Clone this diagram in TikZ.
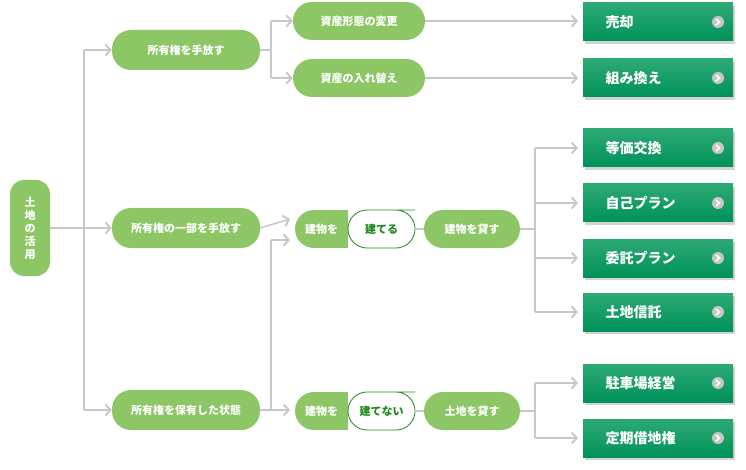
\documentclass[tikz,border=0pt]{standalone}
\usepackage{fontspec}
\newfontfamily\jp{Noto Sans CJK JP}
\usetikzlibrary{arrows.meta,shadows}
\definecolor{pillgreen}{HTML}{8CC665}
\definecolor{boxtop}{HTML}{2DAA74}
\definecolor{boxbot}{HTML}{00915A}
\definecolor{linegray}{HTML}{C8C8C8}
\definecolor{textgreen}{HTML}{1E8A1E}
\tikzset{
  pill/.style={fill=pillgreen, text=white, rounded corners=19pt, minimum height=38pt,
    font=\jp\bfseries\fontsize{11}{11}\selectfont, inner sep=0pt},
  greenbox/.style={fill=boxbot, top color=boxtop, bottom color=boxbot, text=white,
    minimum width=150pt, minimum height=38pt, inner sep=0pt,
    drop shadow={shadow xshift=2pt, shadow yshift=-3pt, opacity=0.35},
    font=\jp\bfseries\fontsize{14}{14}\selectfont},
  conn/.style={linegray, line width=1.5pt},
  tip/.style={conn, -{Straight Barb[length=5pt,width=11pt,line width=2pt]}},
}
\newcommand{\gobox}[3]{%
  \node[greenbox] (#1) at (658,#2) {};
  \node[anchor=west, text=white, font=\jp\bfseries\fontsize{14}{14}\selectfont] at (602,#2) {#3};
  \fill[gray!45] (718,#2) circle (6pt);
  \draw[white, line width=1.5pt] (716,#2-3) -- (719.5,#2) -- (716,#2+3);
}
\begin{document}
\begin{tikzpicture}[x=1pt,y=-1pt]
\useasboundingbox (0,0) rectangle (746,470);
% root
\node[pill, minimum width=40pt, minimum height=96pt, rounded corners=14pt, align=center,
  font=\jp\bfseries\fontsize{11}{13}\selectfont] (root) at (30,228) {土\\地\\の\\活\\用};
% first level
\node[pill, minimum width=148pt, minimum height=40pt] (sell) at (186,50) {所有権を手放す};
\node[pill, minimum width=148pt, minimum height=40pt] (part) at (186,228) {所有権の一部を手放す};
\node[pill, minimum width=148pt, minimum height=40pt] (keep) at (186,410) {所有権を保有した状態};
\coordinate (rj) at (84,228);
\draw[conn] (root.east) -- (rj);
\draw[conn] (84,50) -- (84,410);
\draw[tip] (84,50) -- (sell.west);
\draw[tip] (rj) -- (part.west);
\draw[tip] (84,410) -- (keep.west);
% second level
\node[pill, minimum width=132pt] (form) at (359,21) {資産形態の変更};
\node[pill, minimum width=132pt] (swap) at (359,78) {資産の入れ替え};
\draw[conn] (sell.east) -- (271,50);
\draw[conn] (271,21) -- (271,78);
\draw[tip] (271,21) -- (form.west);
\draw[tip] (271,78) -- (swap.west);
% split pills
\foreach \nm/\yy/\rt in {build/229/建てる, nobuild/411/建てない}{
  \begin{scope}
    \clip[rounded corners=19pt] (295,\yy-19) rectangle (415,\yy+19);
    \fill[white] (295,\yy-19) rectangle (415,\yy+19);
    \fill[pillgreen] (295,\yy-19) rectangle (348,\yy+19);
  \end{scope}
  \draw[textgreen, line width=0.8pt, rounded corners=19pt] (348,\yy-19) -- (396,\yy-19) -- (415,\yy-19) -- (415,\yy+19) -- (348,\yy+19) -- cycle;
  \node[font=\jp\bfseries\fontsize{11}{11}\selectfont, text=white] (\nm L) at (321.5,\yy) {建物を};
  \node[font=\jp\bfseries\fontsize{11}{11}\selectfont, text=textgreen] (\nm R) at (381.5,\yy) {\rt};
  \coordinate (\nm) at (295,\yy);
  \coordinate (\nm E) at (415,\yy);
}
\draw[tip] (part.east) -- (290,219);
\draw[conn] (keep.east) -- (271,410);
\draw[conn] (271,410) -- (271,240);
\draw[tip] (271,240) -- (290,240);
\draw[tip] (271,410) -- (290,410);
% lend
\node[pill, minimum width=96pt] (lendb) at (472,229) {建物を貸す};
\node[pill, minimum width=96pt] (lendl) at (472,411) {土地を貸す};
\draw[conn] (buildE) -- (lendb.west);
\draw[conn] (nobuildE) -- (lendl.west);
% green boxes
\gobox{baikyaku}{22}{売却}
\gobox{kumikae}{78}{組み換え}
\gobox{toka}{148}{等価交換}
\gobox{jiko}{203}{自己プラン}
\gobox{itaku}{258}{委託プラン}
\gobox{shintaku}{312}{土地信託}
\gobox{chusha}{383}{駐車場経営}
\gobox{teiki}{438}{定期借地権}
\draw[tip] (form.east) -- (578,21);
\draw[tip] (swap.east) -- (578,78);
\draw[conn] (lendb.east) -- (535,229);
\draw[conn] (535,148) -- (535,312);
\foreach \yy in {148,203,258,312}{\draw[tip] (535,\yy) -- (578,\yy);}
\draw[conn] (lendl.east) -- (535,411);
\draw[conn] (535,383) -- (535,438);
\foreach \yy in {383,438}{\draw[tip] (535,\yy) -- (578,\yy);}
\end{tikzpicture}
\end{document}
